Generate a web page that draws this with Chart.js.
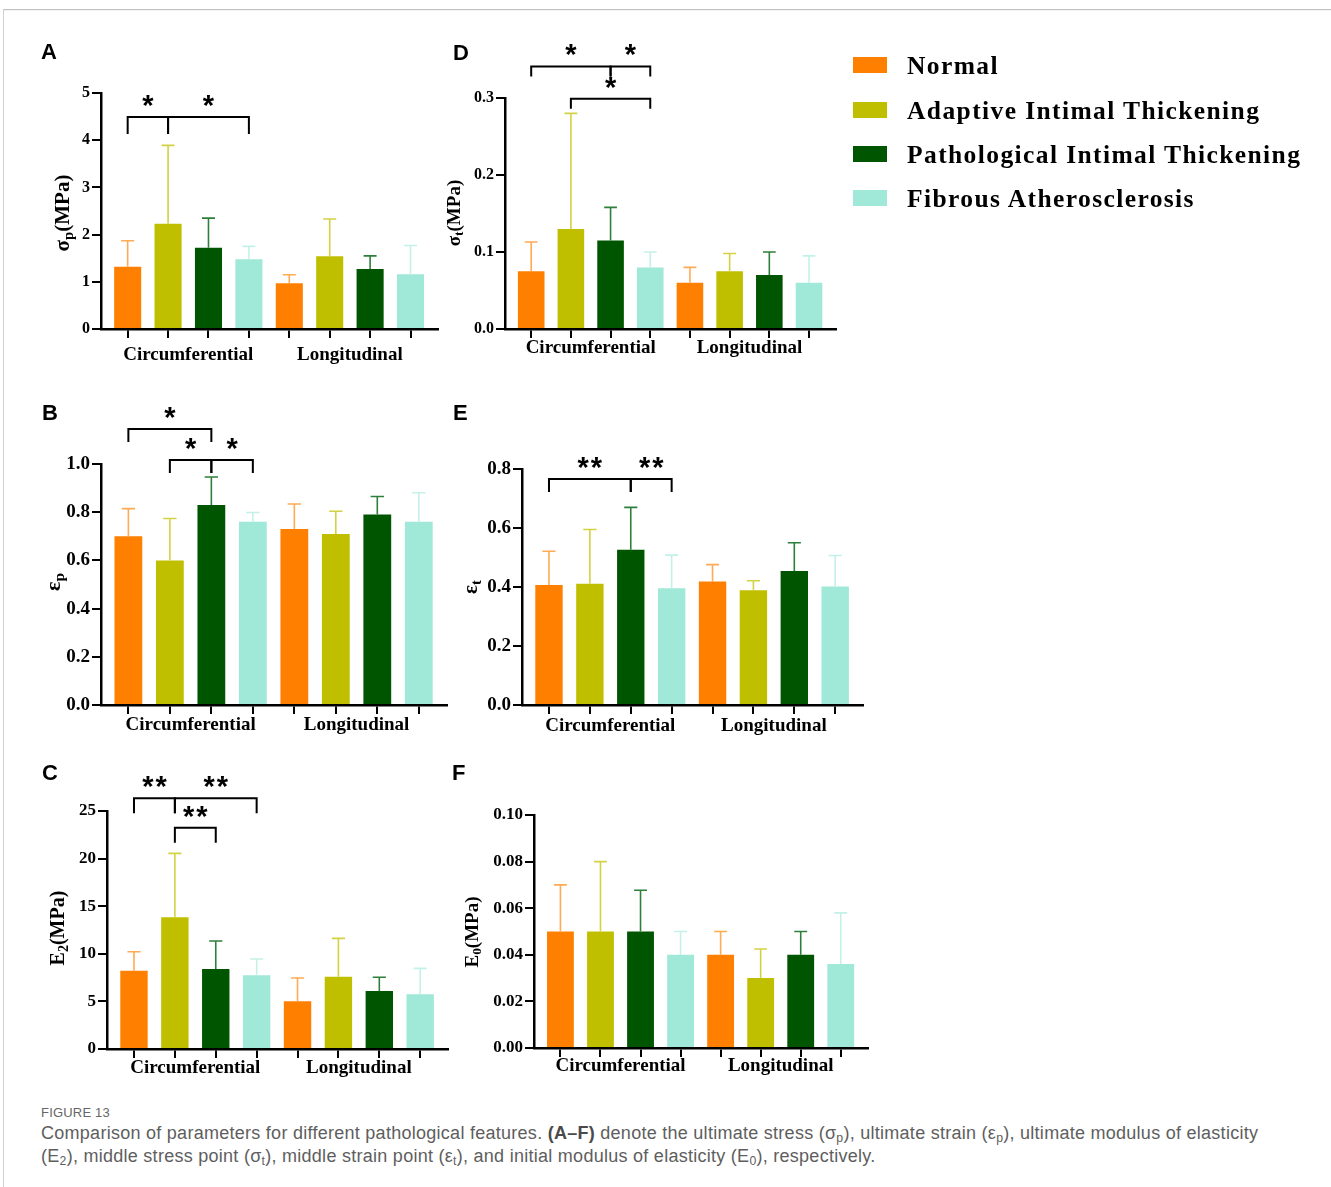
<!DOCTYPE html>
<html>
<head>
<meta charset="utf-8">
<title>Figure 13</title>
<script src="https://cdn.jsdelivr.net/npm/chart.js@4.4.1/dist/chart.umd.min.js"></script>
<style>
  html, body { margin: 0; padding: 0; background: #fff; }
  #page { position: relative; width: 1331px; height: 1187px; overflow: hidden; background: #fff; }
  .frame { position: absolute; left: 3px; top: 9px; width: 1340px; height: 1200px;
           border-top: 1px solid #c2c2c2; border-left: 1px solid #d2d2d2; box-shadow: 0 1px 1px rgba(0,0,0,0.06) inset; }
  canvas { position: absolute; }
  .letter { position: absolute; font: bold 22px "Liberation Sans", Arial, sans-serif; color: #000; line-height: 1; }
  .ytitle { position: absolute; font-family: "Liberation Serif", "Times New Roman", serif; font-weight: bold;
            color: #000; white-space: nowrap; line-height: 1; transform: translate(-50%, -50%) rotate(-90deg); }
  .ytitle sub { font-size: 70%; vertical-align: -0.28em; line-height: 0; }
  .legend-row { position: absolute; left: 853px; height: 0; }
  .legend-row .sw { position: absolute; left: 0; top: -8px; width: 34px; height: 16px; }
  .legend-row .tx { position: absolute; left: 54px; top: -14.2px; white-space: nowrap; line-height: 1;
                    font: bold 25.5px "Liberation Serif", "Times New Roman", serif; letter-spacing: 1.4px; color: #000; }
  .fig { position: absolute; left: 41px; top: 1105px; font: 13px "Liberation Sans", Arial, sans-serif;
         color: #666; letter-spacing: 0.2px; line-height: 16px; }
  .cap { position: absolute; left: 41px; top: 1122px; width: 1285px; font: 18px "Liberation Sans", Arial, sans-serif;
         color: #5e5e5e; line-height: 23px; white-space: nowrap; letter-spacing: 0.27px; }
  .cap b { font-weight: bold; color: #4a4a4a; }
  .cap sub { font-size: 68%; vertical-align: -0.25em; line-height: 0; }
</style>
</head>
<body>
<div id="page">
  <div class="frame"></div>
</div>
<script>
// ---- categories ----
const groups = ['Circumferential', 'Longitudinal'];
const classes = ['Normal', 'Adaptive Intimal Thickening', 'Pathological Intimal Thickening', 'Fibrous Atherosclerosis'];

// ---- (A) ultimate stress σp, MPa: [circumferential, longitudinal] per class ----
const sigmaPMean = [[1.32, 0.97], [2.23, 1.54], [1.72, 1.27], [1.48, 1.16]];
const sigmaPSd   = [[0.55, 0.18], [1.66, 0.79], [0.63, 0.28], [0.27, 0.61]];
const sigmaPTicks = ['0', '1', '2', '3', '4', '5'];
const sigmaPSig = [
  { pair: [0, 1], level: 4.49, mark: '*' },
  { pair: [1, 3], level: 4.49, mark: '*' }
];

// ---- (B) ultimate strain εp ----
const epsPMean = [[0.70, 0.73], [0.60, 0.71], [0.83, 0.79], [0.76, 0.76]];
const epsPSd   = [[0.115, 0.104], [0.174, 0.094], [0.116, 0.075], [0.039, 0.121]];
const epsPTicks = ['0.0', '0.2', '0.4', '0.6', '0.8', '1.0'];
const epsPSig = [
  { pair: [0, 2], level: 1.145, mark: '*' },
  { pair: [1, 2], level: 1.017, mark: '*' },
  { pair: [2, 3], level: 1.017, mark: '*' }
];

// ---- (C) ultimate modulus of elasticity E2, MPa ----
const e2Mean = [[8.23, 5.01], [13.83, 7.60], [8.40, 6.09], [7.74, 5.74]];
const e2Sd   = [[1.99, 2.45], [6.72, 4.02], [2.94, 1.44], [1.71, 2.73]];
const e2Ticks = ['0', '5', '10', '15', '20', '25'];
const e2Sig = [
  { pair: [0, 1], level: 26.33, mark: '**' },
  { pair: [1, 3], level: 26.33, mark: '**' },
  { pair: [1, 2], level: 23.25, mark: '**' }
];

// ---- (D) middle stress point σt, MPa ----
const sigmaTMean = [[0.075, 0.060], [0.130, 0.075], [0.115, 0.070], [0.080, 0.060]];
const sigmaTSd   = [[0.038, 0.020], [0.150, 0.023], [0.043, 0.030], [0.020, 0.035]];
const sigmaTTicks = ['0.0', '0.1', '0.2', '0.3'];
const sigmaTSig = [
  { pair: [0, 2], level: 0.341, mark: '*' },
  { pair: [2, 3], level: 0.341, mark: '*' },
  { pair: [1, 3], level: 0.299, mark: '*' }
];

// ---- (E) middle strain point εt ----
const epsTMean = [[0.407, 0.419], [0.411, 0.389], [0.526, 0.454], [0.396, 0.402]];
const epsTSd   = [[0.114, 0.057], [0.184, 0.032], [0.144, 0.096], [0.112, 0.105]];
const epsTTicks = ['0.0', '0.2', '0.4', '0.6', '0.8'];
const epsTSig = [
  { pair: [0, 2], level: 0.766, mark: '**' },
  { pair: [2, 3], level: 0.766, mark: '**' }
];

// ---- (F) initial modulus of elasticity E0, MPa ----
const e0Mean = [[0.050, 0.040], [0.050, 0.030], [0.050, 0.040], [0.040, 0.036]];
const e0Sd   = [[0.020, 0.010], [0.030, 0.0125], [0.0177, 0.010], [0.010, 0.022]];
const e0Ticks = ['0.00', '0.02', '0.04', '0.06', '0.08', '0.10'];
const e0Sig = [];

// ---- styling ----
const barColors = ['#FF8000', '#BFBF00', '#005500', '#A0E8D8'];
const errColors = ['#FFAA55', '#D2D245', '#2F7F3C', '#C4F1E7'];
const SERIF = '"Liberation Serif", "Times New Roman", serif';
const X_MIN = -0.54, X_MAX = 1.545;
const WY = 80, PT = 70, PR = 30, HT = 9, HL = 36;

const page = document.getElementById('page');

function addDiv(cls, html, style) {
  const d = document.createElement('div');
  d.className = cls;
  d.innerHTML = html;
  Object.assign(d.style, style);
  page.appendChild(d);
  return d;
}

function makePanel(p) {
  const left = Math.round(p.axisX - WY);
  const top = Math.round(p.yTop - PT);
  const plotW = Math.round(p.xRight - p.axisX);
  const plotH = Math.round(p.yZero - p.yTop);
  const canvas = document.createElement('canvas');
  canvas.width = WY + plotW + PR;
  canvas.height = PT + plotH + HT + HL;
  canvas.style.left = left + 'px';
  canvas.style.top = top + 'px';
  canvas.style.width = canvas.width + 'px';
  canvas.style.height = canvas.height + 'px';
  page.appendChild(canvas);

  const n = classes.length;
  const barCenters = [];
  groups.forEach((_, g) => classes.forEach((_, c) => barCenters.push(g + (c + 0.5) / n - 0.5)));

  // mean + SD whiskers above each bar
  const whiskers = {
    id: 'whiskers',
    afterDatasetsDraw(chart) {
      const ctx = chart.ctx, y = chart.scales.y;
      ctx.save();
      ctx.lineWidth = 1.6;
      classes.forEach((_, c) => {
        chart.getDatasetMeta(c).data.forEach((bar, g) => {
          const tip = y.getPixelForValue(p.means[c][g] + p.sds[c][g]);
          const half = bar.width * 0.24;
          ctx.strokeStyle = errColors[c];
          ctx.beginPath();
          ctx.moveTo(bar.x, bar.y);
          ctx.lineTo(bar.x, tip);
          ctx.moveTo(bar.x - half, tip);
          ctx.lineTo(bar.x + half, tip);
          ctx.stroke();
        });
      });
      ctx.restore();
    }
  };

  // significance brackets with star marks
  const brackets = {
    id: 'brackets',
    afterDraw(chart) {
      const ctx = chart.ctx, y = chart.scales.y;
      ctx.save();
      ctx.strokeStyle = '#000';
      ctx.fillStyle = '#000';
      ctx.lineWidth = 2;
      ctx.lineJoin = 'miter';
      ctx.font = 'bold 29px "Liberation Sans", Arial, sans-serif';
      ctx.textAlign = 'center';
      ctx.textBaseline = 'alphabetic';
      p.sig.forEach(b => {
        const x1 = chart.getDatasetMeta(b.pair[0]).data[0].x;
        const x2 = chart.getDatasetMeta(b.pair[1]).data[0].x;
        const yy = y.getPixelForValue(b.level);
        ctx.beginPath();
        ctx.moveTo(x1, yy + p.drop);
        ctx.lineTo(x1, yy);
        ctx.lineTo(x2, yy);
        ctx.lineTo(x2, yy + p.drop);
        ctx.stroke();
        const ls = b.mark.length > 1 ? 2 : 0;
        ctx.letterSpacing = ls + 'px';
        const m = ctx.measureText(b.mark);
        const cy = yy - 16;
        ctx.fillText(b.mark, (x1 + x2) / 2 + ls / 2, cy + (m.actualBoundingBoxAscent - m.actualBoundingBoxDescent) / 2);
      });
      ctx.restore();
    }
  };

  new Chart(canvas, {
    type: 'bar',
    data: {
      datasets: classes.map((name, c) => ({
        label: name,
        data: groups.map((_, g) => ({ x: g, y: p.means[c][g] })),
        backgroundColor: barColors[c],
        borderWidth: 0,
        categoryPercentage: 1,
        barPercentage: 0.67
      }))
    },
    options: {
      responsive: false,
      animation: false,
      events: [],
      layout: { padding: { top: PT, right: PR, bottom: 0, left: 0 } },
      plugins: { legend: { display: false }, tooltip: { enabled: false } },
      scales: {
        x: {
          type: 'linear', position: 'bottom', weight: 1, offset: false,
          min: X_MIN, max: X_MAX,
          afterBuildTicks: s => { s.ticks = groups.map((_, g) => ({ value: g })); },
          afterFit: s => { s.height = HL; },
          grid: { display: false, drawTicks: false },
          border: { display: false },
          ticks: {
            autoSkip: false, maxRotation: 0, minRotation: 0, padding: p.labelPad,
            color: '#000', font: { family: SERIF, weight: 'bold', size: 19 },
            callback: (v, i) => groups[i]
          }
        },
        xt: {
          type: 'linear', position: 'bottom', weight: 0, offset: false,
          min: X_MIN, max: X_MAX,
          afterBuildTicks: s => { s.ticks = barCenters.map(v => ({ value: v })); },
          afterFit: s => { s.height = HT; },
          grid: { display: true, drawOnChartArea: false, drawTicks: true, tickLength: HT, color: '#000', lineWidth: 2, offset: false },
          border: { display: true, color: '#000', width: 2.5 },
          ticks: { display: false }
        },
        y: {
          type: 'linear', min: 0, max: p.step * (p.ticks.length - 1),
          afterBuildTicks: s => { s.ticks = p.ticks.map((_, i) => ({ value: +(i * p.step).toFixed(6) })); },
          afterFit: s => { s.width = WY; },
          grid: { display: true, drawOnChartArea: false, drawTicks: true, tickLength: 9, color: '#000', lineWidth: 2 },
          border: { display: true, color: '#000', width: 2.5 },
          ticks: {
            padding: 2, color: '#000',
            font: { family: SERIF, weight: 'bold', size: p.tickSize },
            callback: (v, i) => p.ticks[i]
          }
        }
      }
    },
    plugins: [whiskers, brackets]
  });

  addDiv('letter', p.id, { left: p.letterX + 'px', top: (p.letterY - 3) + 'px' });
  addDiv('ytitle', p.title, { left: p.titleX + 'px', top: p.titleY + 'px', fontSize: p.titleSize + 'px' });
}

const panels = [
  { id: 'A', means: sigmaPMean, sds: sigmaPSd, ticks: sigmaPTicks, step: 1, sig: sigmaPSig,
    axisX: 101, yTop: 93.3, yZero: 329, xRight: 438, tickSize: 16, labelPad: 6, drop: 17,
    title: 'σ<sub>p</sub>(MPa)', titleX: 62, titleY: 213, titleSize: 21, letterX: 41, letterY: 44 },
  { id: 'B', means: epsPMean, sds: epsPSd, ticks: epsPTicks, step: 0.2, sig: epsPSig,
    axisX: 101, yTop: 464, yZero: 705, xRight: 447, tickSize: 19, labelPad: 0, drop: 13,
    title: 'ε<sub>p</sub>', titleX: 53, titleY: 582, titleSize: 22, letterX: 42, letterY: 405 },
  { id: 'C', means: e2Mean, sds: e2Sd, ticks: e2Ticks, step: 5, sig: e2Sig,
    axisX: 107, yTop: 811, yZero: 1049, xRight: 448, tickSize: 17, labelPad: -1, drop: 15,
    title: 'E<sub>2</sub>(MPa)', titleX: 57, titleY: 928, titleSize: 20, letterX: 42, letterY: 765 },
  { id: 'D', means: sigmaTMean, sds: sigmaTSd, ticks: sigmaTTicks, step: 0.1, sig: sigmaTSig,
    axisX: 505, yTop: 98.3, yZero: 329, xRight: 836, tickSize: 16, labelPad: -1, drop: 10,
    title: 'σ<sub>t</sub>(MPa)', titleX: 453, titleY: 213, titleSize: 19, letterX: 453, letterY: 45 },
  { id: 'E', means: epsTMean, sds: epsTSd, ticks: epsTTicks, step: 0.2, sig: epsTSig,
    axisX: 522, yTop: 469.3, yZero: 705.7, xRight: 863, tickSize: 19, labelPad: 1, drop: 13,
    title: 'ε<sub>t</sub>', titleX: 470, titleY: 587, titleSize: 21, letterX: 453, letterY: 405 },
  { id: 'F', means: e0Mean, sds: e0Sd, ticks: e0Ticks, step: 0.02, sig: e0Sig,
    axisX: 534, yTop: 815, yZero: 1048.3, xRight: 868, tickSize: 17, labelPad: -2, drop: 12,
    title: 'E<sub>0</sub>(MPa)', titleX: 471, titleY: 932, titleSize: 19, letterX: 452, letterY: 765 }
];

panels.forEach(makePanel);

// ---- legend ----
const legendRows = [65, 110, 154, 198];
classes.forEach((name, c) => {
  const row = addDiv('legend-row', '', { top: legendRows[c] + 'px' });
  const sw = document.createElement('div');
  sw.className = 'sw';
  sw.style.background = barColors[c];
  row.appendChild(sw);
  const tx = document.createElement('div');
  tx.className = 'tx';
  tx.textContent = name;
  row.appendChild(tx);
});

// ---- caption ----
addDiv('fig', 'FIGURE 13', {});
addDiv('cap',
  'Comparison of parameters for different pathological features. <b>(A–F)</b> denote the ultimate stress (σ<sub>p</sub>), ' +
  'ultimate strain (ε<sub>p</sub>), ultimate modulus of elasticity<br>(E<sub>2</sub>), middle stress point (σ<sub>t</sub>), ' +
  'middle strain point (ε<sub>t</sub>), and initial modulus of elasticity (E<sub>0</sub>), respectively.', {});
</script>
</body>
</html>
